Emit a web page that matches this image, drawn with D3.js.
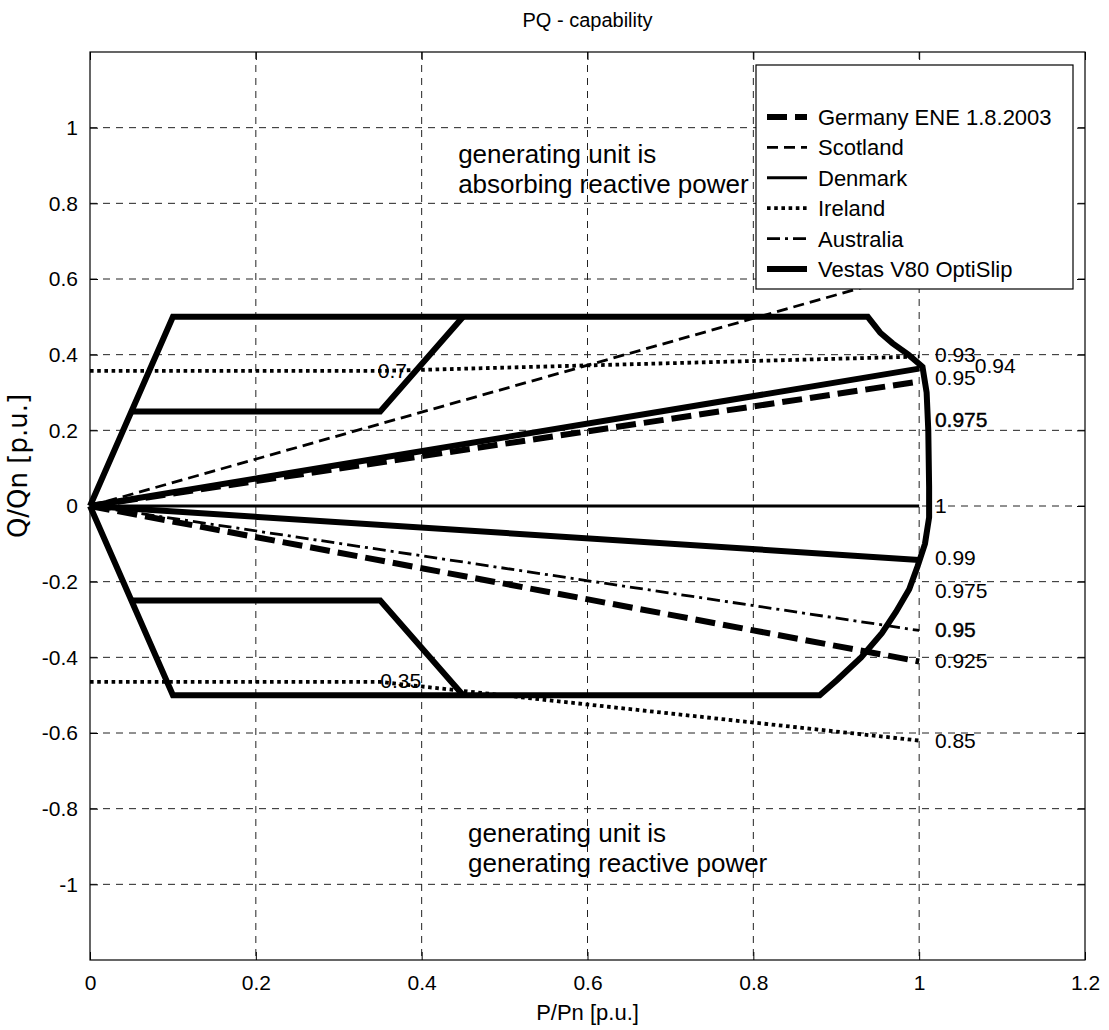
<!DOCTYPE html>
<html><head><meta charset="utf-8">
<script src="https://cdn.jsdelivr.net/npm/d3@7"></script>
<style>
body{margin:0;background:#fff;}
svg text{font-family:"Liberation Sans",Arial,sans-serif;fill:#000;}
</style></head>
<body><svg id="c" width="1109" height="1030"></svg>
<script>
// ---- data ----
const xTicks = [0, 0.2, 0.4, 0.6, 0.8, 1, 1.2];
const yTicks = [-1, -0.8, -0.6, -0.4, -0.2, 0, 0.2, 0.4, 0.6, 0.8, 1];
const xTickLabels = ["0", "0.2", "0.4", "0.6", "0.8", "1", "1.2"];
const yTickLabels = ["-1", "-0.8", "-0.6", "-0.4", "-0.2", "0", "0.2", "0.4", "0.6", "0.8", "1"];

const germanyP = [0, 1];
const germanyQUp = [0, 0.329];
const germanyQLow = [0, -0.411];
const scotlandP = [0, 1];
const scotlandQUp = [0, 0.62];
const denmarkP = [0, 1];
const denmarkQ = [0, 0];
const irelandP = [0, 0.35, 1];
const irelandQUp = [0.357, 0.357, 0.395];
const irelandQLow = [-0.465, -0.465, -0.62];
const australiaP = [0, 1];
const australiaQLow = [0, -0.329];
const vestasOuterP = [0, 0.1, 0.938, 0.953, 0.968, 0.987, 1.004, 1.009, 1.011, 1.012, 1.012, 1.007, 0.998, 0.988, 0.972, 0.955, 0.93, 0.901, 0.88, 0.1, 0];
const vestasOuterQ = [0, 0.5, 0.5, 0.458, 0.43, 0.4, 0.368, 0.3, 0.2, 0.05, -0.03, -0.1, -0.16, -0.22, -0.28, -0.336, -0.4, -0.46, -0.5, -0.5, 0];
const vestasInnerUpP = [0.05, 0.35, 0.45];
const vestasInnerUpQ = [0.25, 0.25, 0.5];
const vestasInnerLowP = [0.05, 0.35, 0.45];
const vestasInnerLowQ = [-0.25, -0.25, -0.5];
const vestasPfP = [0, 1];
const vestasPfQUp = [0, 0.363];
const vestasPfQLow = [0, -0.1425];

const pfLabels = ["0.93", "0.94", "0.95", "0.975", "1", "0.99", "0.975", "0.95", "0.925", "0.85", "0.7", "0.35"];
const pfLabelP = [1.019, 1.067, 1.019, 1.019, 1.019, 1.019, 1.019, 1.019, 1.019, 1.019, 0.347, 0.35];
const pfLabelQ = [0.381, 0.352, 0.320, 0.209, -0.0185, -0.156, -0.243, -0.347, -0.429, -0.640, 0.339, -0.481];
const pfLabelBold = [false, false, false, true, false, false, false, true, false, false, false, false];

const legendNames = ["Germany ENE 1.8.2003", "Scotland", "Denmark", "Ireland", "Australia", "Vestas V80 OptiSlip"];
const noteUpper = ["generating unit is", "absorbing reactive power"];
const noteLower = ["generating unit is", "generating reactive power"];
const noteUpperPos = [0.444, 0.907];
const noteLowerPos = [0.456, -0.889];

// ---- styles ----
const styles = {
  germany: {w: 6, dash: "20,8"},
  scotland: {w: 2.8, dash: "11,6"},
  denmark: {w: 3, dash: null},
  ireland: {w: 3.8, dash: "3.6,3.6"},
  australia: {w: 2.8, dash: "13,5,3,5"},
  vestas: {w: 6, dash: null}
};
const legendStyleKeys = ["germany", "scotland", "denmark", "ireland", "australia", "vestas"];

// ---- layout ----
const L = 90, R = 1085, T = 52, B = 960;
const x = d3.scaleLinear().domain([0, 1.2]).range([L, R]);
const y = d3.scaleLinear().domain([-1.2, 1.2]).range([B, T]);
const svg = d3.select("#c");

// grid
const g = svg.append("g");
g.selectAll(".gx").data(xTicks.filter(v => v > 0 && v < 1.2)).enter().append("line")
  .attr("x1", d => x(d)).attr("x2", d => x(d)).attr("y1", T).attr("y2", B)
  .attr("stroke", "#222").attr("stroke-width", 1).attr("stroke-dasharray", "7,6");
g.selectAll(".gy").data(yTicks).enter().append("line")
  .attr("y1", d => y(d)).attr("y2", d => y(d)).attr("x1", L).attr("x2", R)
  .attr("stroke", "#222").attr("stroke-width", 1).attr("stroke-dasharray", "7,6");

// axes
const xAxisB = d3.axisBottom(x).tickValues(xTicks).tickSize(-8).tickPadding(15).tickFormat((d, i) => xTickLabels[i]);
const xAxisT = d3.axisTop(x).tickValues(xTicks).tickSize(-8).tickFormat("");
const yAxisL = d3.axisLeft(y).tickValues(yTicks).tickSize(-8).tickPadding(12).tickFormat((d, i) => yTickLabels[i]);
const yAxisR = d3.axisRight(y).tickValues(yTicks).tickSize(-8).tickFormat("");
function styleAxis(sel) {
  sel.select(".domain").remove();
  sel.selectAll("line").attr("stroke", "#000");
  sel.selectAll("text").style("font-size", "21px").style("font-family", "Liberation Sans, Arial, sans-serif").attr("fill", "#000");
}
svg.append("g").attr("transform", `translate(0,${B})`).call(xAxisB).call(styleAxis);
svg.append("g").attr("transform", `translate(0,${T})`).call(xAxisT).call(styleAxis);
svg.append("g").attr("transform", `translate(${L},0)`).call(yAxisL).call(styleAxis);
svg.append("g").attr("transform", `translate(${R},0)`).call(yAxisR).call(styleAxis);

// lines
const line = d3.line().x(d => x(d[0])).y(d => y(d[1]));
function draw(P, Q, key) {
  const s = styles[key];
  const p = svg.append("path").datum(P.map((v, i) => [v, Q[i]])).attr("d", line)
    .attr("fill", "none").attr("stroke", "#000").attr("stroke-width", s.w)
    .attr("stroke-linejoin", "miter").attr("stroke-linecap", "butt");
  if (s.dash) p.attr("stroke-dasharray", s.dash);
}
draw(scotlandP, scotlandQUp, "scotland");
draw(denmarkP, denmarkQ, "denmark");
draw(irelandP, irelandQUp, "ireland");
draw(irelandP, irelandQLow, "ireland");
draw(australiaP, australiaQLow, "australia");
draw(vestasOuterP, vestasOuterQ, "vestas");
draw(vestasInnerUpP, vestasInnerUpQ, "vestas");
draw(vestasInnerLowP, vestasInnerLowQ, "vestas");
draw(vestasPfP, vestasPfQUp, "vestas");
draw(vestasPfP, vestasPfQLow, "vestas");
draw(germanyP, germanyQUp, "germany");
draw(germanyP, germanyQLow, "germany");

// pf labels
pfLabels.forEach((t, i) => {
  const tx = svg.append("text").attr("x", x(pfLabelP[i])).attr("y", y(pfLabelQ[i]))
    .style("font-size", "21px").text(t);
  if (pfLabelBold[i]) tx.attr("stroke", "#000").attr("stroke-width", 0.4);
});

// notes
function note(lines, pos) {
  lines.forEach((t, i) => {
    svg.append("text").attr("x", x(pos[0])).attr("y", y(pos[1]) + i * 30)
      .style("font-size", "26px").text(t);
  });
}
note(noteUpper, noteUpperPos);
note(noteLower, noteLowerPos);

// box
svg.append("rect").attr("x", L).attr("y", T).attr("width", R - L).attr("height", B - T)
  .attr("fill", "none").attr("stroke", "#000").attr("stroke-width", 1.2);

// legend
const lg = svg.append("g");
lg.append("rect").attr("x", 756).attr("y", 65).attr("width", 317).attr("height", 224)
  .attr("fill", "#fff").attr("stroke", "#000").attr("stroke-width", 1.2);
legendNames.forEach((n, i) => {
  const yy = 125 + i * 30.4;
  const s = styles[legendStyleKeys[i]];
  const l = lg.append("line").attr("x1", 767).attr("x2", 807).attr("y1", yy - 8).attr("y2", yy - 8)
    .attr("stroke", "#000").attr("stroke-width", s.w);
  if (s.dash) l.attr("stroke-dasharray", s.dash);
  lg.append("text").attr("x", 818).attr("y", yy).style("font-size", "22px").text(n);
});

// titles
svg.append("text").attr("x", (L + R) / 2).attr("y", 27).attr("text-anchor", "middle")
  .style("font-size", "20px").text("PQ - capability");
svg.append("text").attr("x", (L + R) / 2).attr("y", 1020).attr("text-anchor", "middle")
  .style("font-size", "22px").text("P/Pn [p.u.]");
svg.append("text").attr("transform", "translate(27,466) rotate(-90)").attr("text-anchor", "middle")
  .style("font-size", "26px").style("font-family", "DejaVu Sans, sans-serif").text("Q/Qn [p.u.]");
</script></body></html>
